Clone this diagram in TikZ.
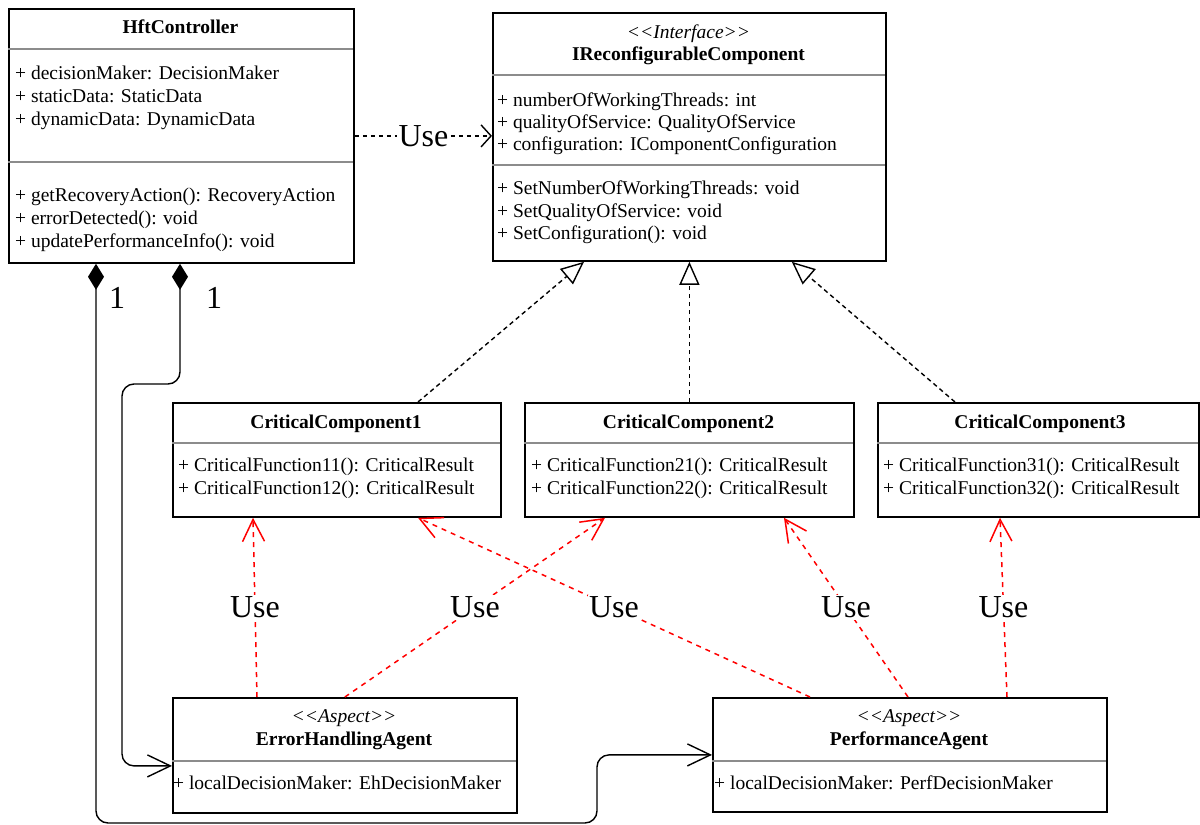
\documentclass[tikz,border=0pt]{standalone}
\usepackage{fontspec}
\setmainfont{Liberation Serif}
\usetikzlibrary{arrows.meta}

\tikzset{
  classbox/.style={draw, line width=1.8pt, fill=white, inner sep=0pt, anchor=north west},
  divider/.style={draw=black!45, line width=1.8pt},
  member/.style={anchor=base west, inner sep=0pt, font=\fontsize{19.5}{23}\selectfont},
  classname/.style={anchor=base, inner sep=0pt, font=\fontsize{19.5}{23}\selectfont\bfseries},
  stereotype/.style={anchor=base, inner sep=0pt, font=\fontsize{19.5}{23}\selectfont\itshape},
  uselabel/.style={fill=white, inner sep=1.5pt, font=\fontsize{32}{36}\selectfont},
  multlabel/.style={inner sep=0pt, font=\fontsize{32}{36}\selectfont},
  usedep/.style={draw, line width=1.4pt, dash pattern=on 4.5pt off 3.5pt,
    -{Straight Barb[length=10pt, width=22pt, line width=1.4pt]}},
  realizes/.style={draw, line width=1.4pt, dash pattern=on 4.5pt off 3.5pt,
    -{Triangle[open, length=23pt, width=20pt, line width=1.4pt, fill=white]}},
  aspectuse/.style={draw=red, line width=1.5pt, dash pattern=on 5pt off 5pt,
    -{Straight Barb[length=22pt, width=22pt, line width=1.5pt]}},
  composes/.style={draw, line width=1.4pt, rounded corners=12pt,
    {Diamond[length=26pt, width=16pt]}-{Straight Barb[length=23pt, width=22pt, line width=1.4pt]}},
}

\newcommand{\stereo}[1]{<\kern0pt<#1>\kern0pt>}

\begin{document}
\begin{tikzpicture}[x=1pt, y=-1pt]
\useasboundingbox[fill=white] (0,0) rectangle (1200,825);

% ---------------- HftController ----------------
\node[classbox, minimum width=345pt, minimum height=254pt] (hft) at (8,8) {};
\node[classname] (hftT) at (180.5,33.5) {HftController};
\draw[divider] (8,49) -- (353,49);
\node[member] (hftA1) at (15,79) {+ decisionMaker: DecisionMaker};
\node[member] (hftA2) at (15,102) {+ staticData: StaticData};
\node[member] (hftA3) at (15,125) {+ dynamicData: DynamicData};
\draw[divider] (8,162) -- (353,162);
\node[member] (hftM1) at (15,201.5) {+ getRecoveryAction(): RecoveryAction};
\node[member] (hftM2) at (15,224.5) {+ errorDetected(): void};
\node[member] (hftM3) at (15,247.5) {+ updatePerformanceInfo(): void};

% ---------------- IReconfigurableComponent ----------------
\node[classbox, minimum width=393pt, minimum height=248pt] (irc) at (492,12) {};
\node[stereotype] (ircS) at (688.5,38.5) {\stereo{Interface}};
\node[classname] (ircT) at (688.5,60.5) {IReconfigurableComponent};
\draw[divider] (492,75) -- (885,75);
\node[member] (ircA1) at (497,106.5) {+ numberOfWorkingThreads: int};
\node[member] (ircA2) at (497,128.5) {+ qualityOfService: QualityOfService};
\node[member] (ircA3) at (497,150.5) {+ configuration: IComponentConfiguration};
\draw[divider] (492,165) -- (885,165);
\node[member] (ircM1) at (497,194.5) {+ SetNumberOfWorkingThreads: void};
\node[member] (ircM2) at (497,217.5) {+ SetQualityOfService: void};
\node[member] (ircM3) at (497,239.5) {+ SetConfiguration(): void};

% ---------------- Critical components ----------------
\node[classbox, minimum width=328pt, minimum height=114pt] (cc1) at (172,402) {};
\node[classname] (cc1T) at (336,428.5) {CriticalComponent1};
\draw[divider] (172,443) -- (500,443);
\node[member] (cc1M1) at (178,471.5) {+ CriticalFunction11(): CriticalResult};
\node[member] (cc1M2) at (178,494.5) {+ CriticalFunction12(): CriticalResult};

\node[classbox, minimum width=329pt, minimum height=114pt] (cc2) at (524,402) {};
\node[classname] (cc2T) at (688.5,428.5) {CriticalComponent2};
\draw[divider] (524,443) -- (853,443);
\node[member] (cc2M1) at (531,471.5) {+ CriticalFunction21(): CriticalResult};
\node[member] (cc2M2) at (531,494.5) {+ CriticalFunction22(): CriticalResult};

\node[classbox, minimum width=321pt, minimum height=114pt] (cc3) at (877,402) {};
\node[classname] (cc3T) at (1040,428.5) {CriticalComponent3};
\draw[divider] (877,443) -- (1198,443);
\node[member] (cc3M1) at (883,471.5) {+ CriticalFunction31(): CriticalResult};
\node[member] (cc3M2) at (883,494.5) {+ CriticalFunction32(): CriticalResult};

% ---------------- Aspects ----------------
\node[classbox, minimum width=344pt, minimum height=115pt] (eha) at (172,697) {};
\node[stereotype] (ehaS) at (344,722.5) {\stereo{Aspect}};
\node[classname] (ehaT) at (344,745.5) {ErrorHandlingAgent};
\draw[divider] (172,761) -- (516,761);
\node[member] (ehaA1) at (173,789.5) {+ localDecisionMaker: EhDecisionMaker};

\node[classbox, minimum width=394pt, minimum height=114pt] (pa) at (712,697) {};
\node[stereotype] (paS) at (909,722.5) {\stereo{Aspect}};
\node[classname] (paT) at (909,745.5) {PerformanceAgent};
\draw[divider] (712,761) -- (1106,761);
\node[member] (paA1) at (714,789.5) {+ localDecisionMaker: PerfDecisionMaker};

% ---------------- Dependency and realization ----------------
\draw[usedep] (hft.east) -- (hft.east -| irc.west)
  node[midway, uselabel] (useTop) {Use};

\draw[realizes] ([xshift=246pt]cc1.north west) -- ([xshift=92pt]irc.south west);
\draw[realizes] (cc2.north) -- (cc2.north |- irc.south);
\draw[realizes] ([xshift=78pt]cc3.north west) -- ([xshift=-95pt]irc.south east);

% ---------------- Aspect usages ----------------
\draw[aspectuse] ([xshift=85pt]eha.north west) -- ([xshift=81pt]cc1.south west)
  node[midway, uselabel, text=black] (use1) {Use};
\draw[aspectuse] (eha.north) -- ([xshift=81pt]cc2.south west)
  node[midway, uselabel, text=black] (use2) {Use};
\draw[aspectuse] ([xshift=98pt]pa.north west) -- ([xshift=246pt]cc1.south west)
  node[midway, uselabel, text=black] (use3) {Use};
\draw[aspectuse] ([xshift=196pt]pa.north west) -- ([xshift=260pt]cc2.south west)
  node[midway, uselabel, text=black] (use4) {Use};
\draw[aspectuse] ([xshift=295pt]pa.north west) -- ([xshift=123pt]cc3.south west)
  node[midway, uselabel, text=black] (use5) {Use};

% ---------------- Compositions ----------------
\coordinate (perfLow) at (96,823);
\coordinate (perfRise) at (597,823);
\draw[composes] ([xshift=88pt]hft.south west) -- (perfLow) -- (perfRise)
  -- (perfRise |- pa.west) -- (pa.west);

\coordinate (errTurn) at (180,384);
\coordinate (errDrop) at (122,384);
\coordinate (errIn) at ([yshift=-10.5pt]eha.west);
\draw[composes] ([xshift=172pt]hft.south west) -- (errTurn) -- (errDrop)
  -- (errDrop |- errIn) -- (errIn);

\node[multlabel] (mult1) at (117,298) {1};
\node[multlabel] (mult2) at (214,298) {1};

\end{tikzpicture}
\end{document}
